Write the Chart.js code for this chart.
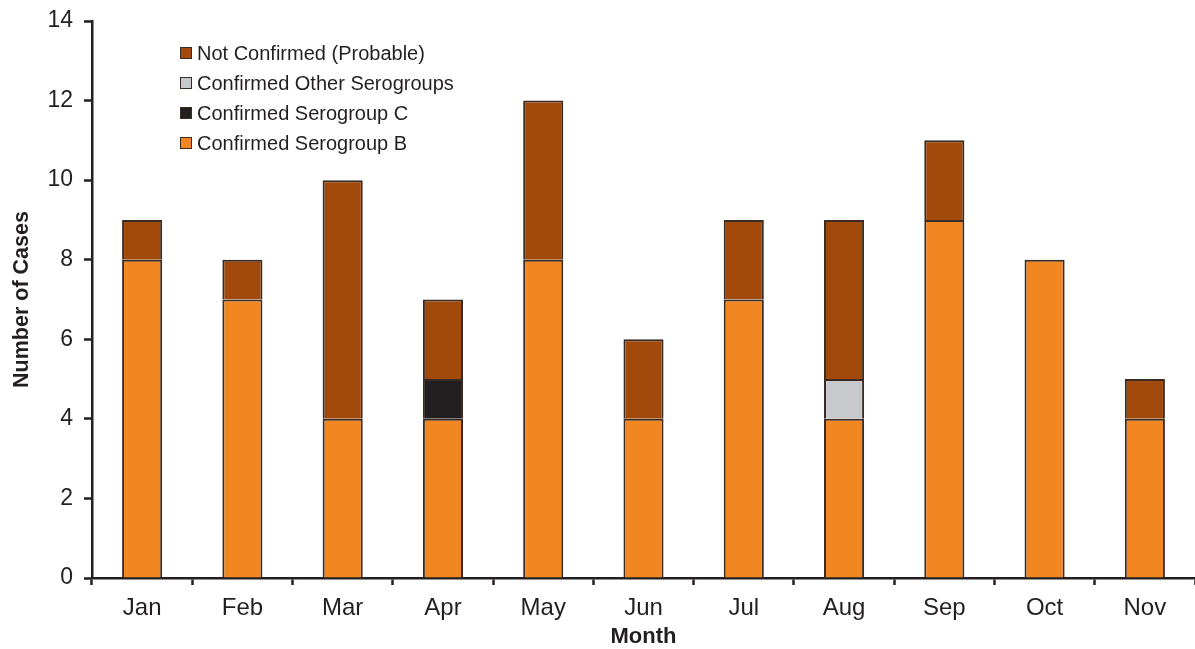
<!DOCTYPE html>
<html>
<head>
<meta charset="utf-8">
<script src="https://cdn.jsdelivr.net/npm/chart.js@4.4.1/dist/chart.umd.min.js"></script>
<style>
  html, body { margin: 0; padding: 0; background: #fff; }
  #wrap { position: relative; width: 1195px; height: 649px; }
  #legend { position: absolute; left: 180px; top: 38px; font-family: "Liberation Sans", Arial, sans-serif; font-size: 20px; color: #231F20; }
  #legend div { height: 30px; line-height: 24px; display: flex; align-items: center; }
  #legend span.box { display: inline-block; width: 10px; height: 10px; border: 1.5px solid #3a2c24; margin-right: 5px; }
</style>
</head>
<body>
<div id="wrap">
  <canvas id="c" width="1195" height="649"></canvas>
  <div id="legend"></div>
</div>
<script>
const months = ["Jan", "Feb", "Mar", "Apr", "May", "Jun", "Jul", "Aug", "Sep", "Oct", "Nov"];
const serogroupB   = [8, 7, 4, 4, 8, 4, 7, 4, 9, 8, 4];
const serogroupC   = [null, null, null, 1, null, null, null, null, null, null, null];
const otherGroups  = [null, null, null, null, null, null, null, 1, null, null, null];
const notConfirmed = [1, 1, 6, 2, 4, 2, 2, 4, 2, null, 1];
const yTicks = [0, 2, 4, 6, 8, 10, 12, 14];

const ink = "#231F20";
const edge = "#3a2c24";
const font = "'Liberation Sans', Arial, sans-serif";

const datasets = [
  { label: "Confirmed Serogroup B", data: serogroupB, backgroundColor: "#F28722" },
  { label: "Confirmed Serogroup C", data: serogroupC, backgroundColor: "#231F20" },
  { label: "Confirmed Other Serogroups", data: otherGroups, backgroundColor: "#C8C9CC" },
  { label: "Not Confirmed (Probable)", data: notConfirmed, backgroundColor: "#A24A0B" }
].map(d => Object.assign(d, {
  borderColor: edge, borderWidth: 2, borderSkipped: "start",
  barPercentage: 0.4, categoryPercentage: 1.0
}));

// legend, listed top-down in reverse stacking order
const legend = document.getElementById("legend");
datasets.slice().reverse().forEach(d => {
  const row = document.createElement("div");
  const box = document.createElement("span");
  box.className = "box";
  box.style.background = d.backgroundColor;
  row.appendChild(box);
  row.appendChild(document.createTextNode(d.label));
  legend.appendChild(row);
});

new Chart(document.getElementById("c"), {
  type: "bar",
  data: { labels: months, datasets },
  options: {
    responsive: false,
    animation: false,
    layout: { padding: { top: 21, right: 0, left: 0, bottom: 0 } },
    plugins: { legend: { display: false }, tooltip: { enabled: false } },
    scales: {
      x: {
        stacked: true,
        afterFit: s => { s.height = 71; },
        grid: { display: true, drawOnChartArea: false, offset: true, tickLength: 7, tickColor: ink, tickWidth: 2.5 },
        border: { display: true, color: ink, width: 2.5 },
        ticks: { color: ink, font: { family: font, size: 24 }, padding: 9 },
        title: { display: true, text: "Month", color: ink, font: { family: font, size: 22, weight: "bold" }, padding: { top: 0, bottom: -1 } }
      },
      y: {
        stacked: true,
        min: 0, max: 14,
        afterFit: s => { s.width = 92; s.paddingTop = 0; s.paddingBottom = 0; },
        afterBuildTicks: s => { s.ticks = yTicks.map(v => ({ value: v })); },
        grid: { display: true, drawOnChartArea: false, tickLength: 8, tickColor: ink, tickWidth: 2.5 },
        border: { display: true, color: ink, width: 2.5 },
        ticks: { color: ink, font: { family: font, size: 23 }, padding: 11 },
        title: { display: true, text: "Number of Cases", color: ink, font: { family: font, size: 21.5, weight: "bold" }, padding: { top: 9, bottom: 0 } }
      }
    }
  }
});
</script>
</body>
</html>
